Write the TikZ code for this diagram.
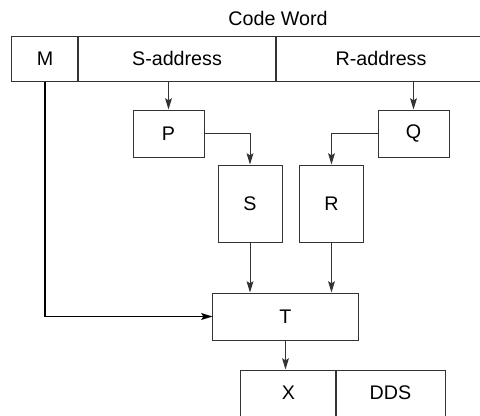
\documentclass[tikz,border=0pt]{standalone}
\usepackage{fontspec}
\setmainfont{Liberation Sans}
\usetikzlibrary{arrows.meta}

\begin{document}
\begin{tikzpicture}[x = 0.025cm, y = -0.025cm,
    every node/.style = {font = \fontsize{14}{16}\selectfont},
    field/.style = {shape = rectangle, draw = black!80, line width = 0.7pt,
        inner sep = 0pt, minimum height = 1.125cm},
    unit/.style = {field, minimum height = 1.175cm},
    arr/.style = {draw = black!80, line width = 0.7pt,
        -{Stealth[length = 2.8mm, width = 1.7mm, inset = 0.5mm]}}]
    \clip (0,0) rectangle (480,415);
    % code word
    \node (title) at (278,18) {Code Word};
    \node[field, minimum width = 1.65cm] (m) at (45,58.5) {M};
    \node[field, minimum width = 4.95cm] (saddr) at (177,58.5) {S-address};
    \node[field, minimum width = 5.25cm] (raddr) at (381,58.5) {R-address};
    % units
    \node[unit, minimum width = 1.775cm] (p) at (168.5,133.5) {P};
    \node[unit, minimum width = 1.775cm] (q) at (413.5,133.5) {Q};
    \node[unit, minimum width = 1.6cm, minimum height = 1.925cm] (s) at (250,203.5) {S};
    \node[unit, minimum width = 1.6cm, minimum height = 1.925cm] (r) at (331.5,203.5) {R};
    \node[unit, minimum width = 3.625cm] (t) at (285.5,316.5) {T};
    % result word
    \node[field, minimum width = 2.375cm, minimum height = 1.15cm] (x) at (288.5,393) {X};
    \node[field, minimum width = 2.725cm, minimum height = 1.15cm] (dds) at (390.5,393) {DDS};
    % connectors
    \draw[arr] (saddr.south -| p.north) -- (p.north);
    \draw[arr] (raddr.south -| q.north) -- (q.north);
    \draw[arr] (p.east) -| (s.north);
    \draw[arr] (q.west) -| (r.north);
    \draw[arr] (s.south) -- (s.south |- t.north);
    \draw[arr] (r.south) -- (r.south |- t.north);
    \draw[arr, draw = black, line width = 1pt] (m.south) |- (t.west);
    \draw[arr] (t.south) -- (t.south |- x.north);
\end{tikzpicture}
\end{document}
